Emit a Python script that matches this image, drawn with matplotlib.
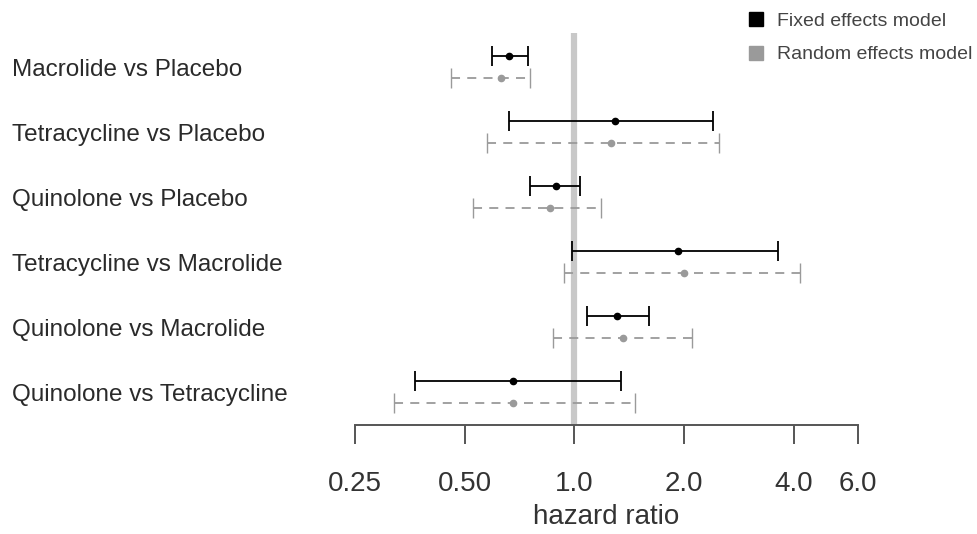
import numpy as np
import matplotlib.pyplot as plt
import matplotlib.transforms as mtransforms
from matplotlib.lines import Line2D

plt.rcParams['font.family'] = ['Liberation Sans', 'DejaVu Sans']

# comparisons (top to bottom)
comparisons = [
    "Macrolide vs Placebo",
    "Tetracycline vs Placebo",
    "Quinolone vs Placebo",
    "Tetracycline vs Macrolide",
    "Quinolone vs Macrolide",
    "Quinolone vs Tetracycline",
]

# fixed effects model: hazard ratio and 95% CI
fixed_hr = [0.66, 1.29, 0.89, 1.93, 1.31, 0.68]
fixed_lo = [0.595, 0.663, 0.753, 0.987, 1.083, 0.365]
fixed_hi = [0.748, 2.405, 1.038, 3.62, 1.607, 1.339]

# random effects model: hazard ratio and 95% CI
random_hr = [0.627, 1.257, 0.856, 2.00, 1.356, 0.678]
random_lo = [0.458, 0.577, 0.528, 0.937, 0.876, 0.319]
random_hi = [0.756, 2.49, 1.185, 4.17, 2.107, 1.466]

tick_vals = [0.25, 0.5, 1.0, 2.0, 4.0, 6.0]
tick_labels = ["0.25", "0.50", "1.0", "2.0", "4.0", "6.0"]

W, H = 978, 534
fig = plt.figure(figsize=(W / 100, H / 100), dpi=100)
ax = fig.add_axes([355 / W, 1 - 425 / H, (858 - 355) / W, (425 - 20) / H])

rows = np.arange(len(comparisons))
off = 0.173

# reference line at HR = 1
ax.plot([1, 1], [-0.523, 5.51], color="#c8c8c8", lw=4.5, zorder=1,
        solid_capstyle="butt")

fhr = np.array(fixed_hr)
ax.errorbar(fhr, rows - off,
            xerr=[fhr - np.array(fixed_lo), np.array(fixed_hi) - fhr],
            fmt="o", color="black", ms=4.5, lw=1.3, capsize=7,
            capthick=1.3, zorder=3)

rhr = np.array(random_hr)
eb2 = ax.errorbar(rhr, rows + off,
                  xerr=[rhr - np.array(random_lo), np.array(random_hi) - rhr],
                  fmt="o", color="#9a9a9a", ms=4.5, lw=1.3, capsize=7,
                  capthick=1.0, zorder=2)
eb2[2][0].set_linestyle((0, (5, 4)))

ax.set_xscale("log", base=2)
ax.set_xlim(0.25, 6.0)
ax.set_ylim(5.51, -0.723)

ax.set_xticks(tick_vals)
ax.set_xticklabels(tick_labels)
ax.minorticks_off()
ax.tick_params(axis="x", direction="out", length=14, width=1.4,
               color="#555555", labelsize=20, labelcolor="#333333", pad=19)
ax.set_yticks([])
for s in ["top", "left", "right"]:
    ax.spines[s].set_visible(False)
ax.spines["bottom"].set_color("#555555")
ax.spines["bottom"].set_linewidth(1.4)
ax.set_xlabel("hazard ratio", fontsize=20, color="#333333", labelpad=5)

# row labels, left aligned
trans = mtransforms.blended_transform_factory(fig.transFigure, ax.transData)
for i, name in enumerate(comparisons):
    ax.text(12 / W, i + 0.05, name, transform=trans, ha="left", va="center",
            fontsize=17.5, color="#2a2a2a")

handles = [
    Line2D([], [], marker="s", ls="none", color="black", ms=10),
    Line2D([], [], marker="s", ls="none", color="#9a9a9a", ms=10),
]
fig.legend(handles, ["Fixed effects model", "Random effects model"],
           loc="upper right", bbox_to_anchor=(1.0 + 5 / W, 1.0 - 2 / H),
           frameon=False, fontsize=14, labelcolor="#444444",
           handletextpad=0.6, labelspacing=0.8, handlelength=1.0,
           borderaxespad=0.15)

fig.savefig("out.png", dpi=100)
